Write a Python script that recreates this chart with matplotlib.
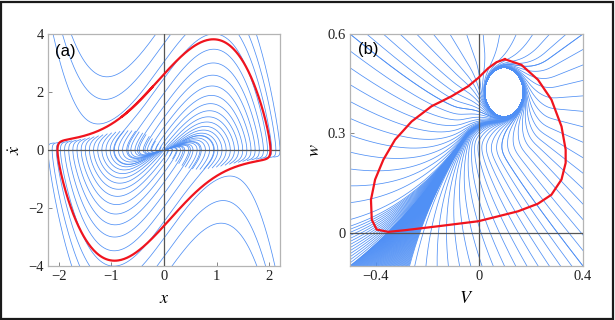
import numpy as np
import matplotlib
matplotlib.use("Agg")
import matplotlib.pyplot as plt
from matplotlib.patches import Rectangle

# ---------------- data / parameters ----------------
# panel (a): van der Pol oscillator  x'' - mu (1 - x^2) x' + x = 0
mu_cycle = 2.0          # limit cycle (red)
mu_flow = 2.5           # flow lines (blue)
a_xlim = [-2.2, 2.2]
a_ylim = [-4.0, 4.0]
a_xticks = [-2, -1, 0, 1, 2]
a_xticklabels = ["\u22122", "\u22121", "0", "1", "2"]
a_yticks = [-4, -2, 0, 2, 4]
a_yticklabels = ["\u22124", "\u22122", "0", "2", "4"]

# panel (b): flow toward a small loop, fed by a slow manifold
b_focus = [0.095, 0.425]
b_loop_radius = 0.075
b_manifold_point = [0.03, 0.39]
b_manifold_slope = 1.2
b_xlim = [-0.5, 0.4]
b_ylim = [-0.1, 0.6]
b_xticks = [-0.4, 0, 0.4]
b_xticklabels = ["\u22120.4", "0", "0.4"]
b_yticks = [0, 0.3, 0.6]
b_yticklabels = ["0", "0.3", "0.6"]
# red closed orbit in panel (b)
b_cycle_V = [0.098, 0.162, 0.226, 0.278, 0.317, 0.333, 0.333, 0.317, 0.278, 0.226,
             0.149, 0.047, -0.005, -0.159, -0.288, -0.352, -0.397, -0.416, -0.419,
             -0.403, -0.371, -0.326, -0.262, -0.185, -0.108, -0.044, -0.005, 0.034,
             0.066, 0.098]
b_cycle_w = [0.524, 0.507, 0.462, 0.402, 0.321, 0.251, 0.211, 0.161, 0.115, 0.088,
             0.065, 0.045, 0.035, 0.020, 0.008, 0.003, 0.010, 0.040, 0.100, 0.161,
             0.221, 0.281, 0.336, 0.382, 0.412, 0.442, 0.467, 0.497, 0.515, 0.524]

BLUE = "#5090f5"
RED = "#f0141e"
FRAME = "#b4b4b4"
ZERO = "#555555"

plt.rcParams['mathtext.fontset'] = 'stix'
plt.rcParams['font.family'] = ['Liberation Serif', 'DejaVu Serif']


def rk4(f, x, y, dt, n, lim):
    X = np.empty((n + 1, x.size)); Y = np.empty((n + 1, x.size))
    X[0] = x; Y[0] = y
    for i in range(n):
        k1 = f(x, y)
        k2 = f(x + dt/2*k1[0], y + dt/2*k1[1])
        k3 = f(x + dt/2*k2[0], y + dt/2*k2[1])
        k4 = f(x + dt*k3[0], y + dt*k3[1])
        x = x + dt/6*(k1[0] + 2*k2[0] + 2*k3[0] + k4[0])
        y = y + dt/6*(k1[1] + 2*k2[1] + 2*k3[1] + k4[1])
        bad = ((x < lim[0]) | (x > lim[1]) | (y < lim[2]) | (y > lim[3])
               | ~np.isfinite(x) | ~np.isfinite(y))
        x = np.where(bad, np.nan, x); y = np.where(bad, np.nan, y)
        X[i + 1] = x; Y[i + 1] = y
    return X, Y


def vdp(mu):
    return lambda x, y: (y, mu*(1 - x**2)*y - x)


def flow_b(k1=1.0, K=2.6, beta=10.0, om=14.0):
    V0, w0 = b_focus
    P = b_manifold_point
    R = b_loop_radius
    th = np.arctan(b_manifold_slope); c, s = np.cos(th), np.sin(th)

    def f(V, w):
        dV = V - P[0]; dw = w - P[1]
        a = dV*c + dw*s; b = -dV*s + dw*c
        k2 = k1 + (K - k1)/(1 + np.exp(a/0.04))
        da = -k1*a; db = -k2*b
        fx = da*c - db*s; fy = da*s + db*c
        eV = V - V0; ew = w - w0
        r2 = eV**2 + ew**2
        g = np.exp(-(r2/(1.7*R)**2)**2)
        hx = beta*(1 - r2/R**2)*eV - om*ew
        hy = beta*(1 - r2/R**2)*ew + om*eV
        return (1 - g)*fx + g*hx, (1 - g)*fy + g*hy
    return f


fig = plt.figure(figsize=(6.15, 3.2), dpi=100)
fig.patches.append(Rectangle((0.002, 0.004), 0.995, 0.990, transform=fig.transFigure,
                             fill=False, edgecolor="#1a1a1a", linewidth=1.6))

axA = fig.add_axes([48/615, 54/320, 232/615, 232/320])
axB = fig.add_axes([350/615, 54/320, 233/615, 232/320])

# ---- panel (a) ----
lim = (-3.0, 3.0, -6.0, 6.0)
x0 = np.linspace(a_xlim[0], a_xlim[1], 57)
x0 = x0[np.abs(x0) > 0.05]
y0 = np.zeros_like(x0)
Xf, Yf = rk4(vdp(mu_flow), x0, y0, 0.004, 150, lim)
Xb, Yb = rk4(vdp(mu_flow), x0, y0, -0.004, 900, lim)
axA.plot(Xf, Yf, color=BLUE, lw=0.55)
axA.plot(Xb, Yb, color=BLUE, lw=0.55)
Xr, Yr = rk4(vdp(mu_cycle), np.array([2.0]), np.array([0.0]), 0.005, 12000,
             (-9, 9, -30, 30))
axA.axhline(0, color=ZERO, lw=0.9, zorder=3)
axA.axvline(0, color=ZERO, lw=0.9, zorder=3)
axA.plot(Xr[-1600:, 0], Yr[-1600:, 0], color=RED, lw=1.6, zorder=4)
axA.set_xlim(a_xlim); axA.set_ylim(a_ylim)
axA.set_xticks(a_xticks); axA.set_xticklabels(a_xticklabels)
axA.set_yticks(a_yticks); axA.set_yticklabels(a_yticklabels)
axA.text(0.03, 0.955, "(a)", transform=axA.transAxes, ha="left", va="top",
         fontsize=12, family=["Liberation Sans", "DejaVu Sans"])
axA.set_xlabel("$x$", fontsize=13, labelpad=5)
axA.set_ylabel("$\\dot{x}$", fontsize=13, labelpad=3)

# ---- panel (b) ----
tV = np.linspace(b_xlim[0], b_xlim[1], 15); tW = np.full_like(tV, b_ylim[1])
rW = np.linspace(b_ylim[0], b_ylim[1], 16); rV = np.full_like(rW, b_xlim[1])
lW = np.linspace(0.04, b_ylim[1], 12); lV = np.full_like(lW, b_xlim[0])
bV1 = np.linspace(-0.25, b_xlim[1], 16); bW1 = np.full_like(bV1, b_ylim[0])
# dense bundle entering at the lower-left corner along the slow manifold
bV2 = np.linspace(b_xlim[0], -0.27, 75); bW2 = np.full_like(bV2, b_ylim[0])
lW2 = np.linspace(b_ylim[0], 0.02, 14); lV2 = np.full_like(lW2, b_xlim[0])
sV = np.concatenate([tV, rV, lV, bV1, bV2, lV2])
sW = np.concatenate([tW, rW, lW, bW1, bW2, lW2])
XV, XW = rk4(flow_b(), sV, sW, 0.003, 3000, (-1.3, 0.8, -0.9, 1.0))
axB.plot(XV, XW, color=BLUE, lw=0.55)
axB.axhline(0, color=ZERO, lw=0.9, zorder=3)
axB.axvline(0, color=ZERO, lw=0.9, zorder=3)
axB.plot(b_cycle_V, b_cycle_w, color=RED, lw=1.6, zorder=4)
axB.set_xlim(b_xlim); axB.set_ylim(b_ylim)
axB.set_xticks(b_xticks); axB.set_xticklabels(b_xticklabels)
axB.set_yticks(b_yticks); axB.set_yticklabels(b_yticklabels)
axB.text(0.034, 0.966, "(b)", transform=axB.transAxes, ha="left", va="top",
         fontsize=12, family=["Liberation Sans", "DejaVu Sans"])
axB.set_xlabel("$V$", fontsize=13, labelpad=5)
axB.set_ylabel("$w$", fontsize=13, labelpad=3)

for ax in (axA, axB):
    for sp in ax.spines.values():
        sp.set_color(FRAME); sp.set_linewidth(0.9)
    ax.tick_params(direction="in", length=3, width=0.7, color="#888888",
                   labelsize=10.5, pad=3, labelcolor="#222222")

fig.savefig("out.png", dpi=100)
